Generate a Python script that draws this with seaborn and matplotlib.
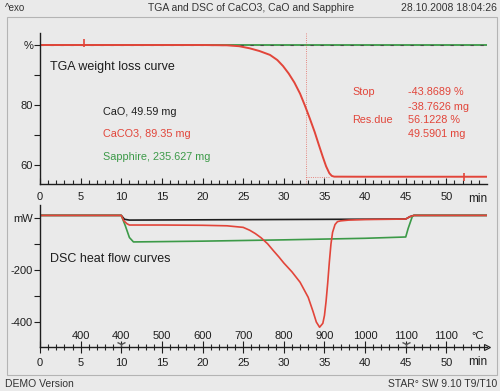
import matplotlib
matplotlib.use("Agg")
import matplotlib.pyplot as plt
from matplotlib.patches import Rectangle
import seaborn as sns
import pandas as pd

# TGA (weight %, vs time in min)
tga_t = [0, 10, 20, 23, 24.5, 25.8, 27, 28.3, 29.2, 29.9, 30.6, 31.3, 32, 32.6, 33.2,
         33.8, 34.3, 34.8, 35.2, 35.6, 35.9, 36.2, 40, 50, 55]
tga_caco3 = [100, 100, 100, 99.9, 99.6, 98.9, 98.0, 96.7, 95.0, 93.0, 90.5, 87.5, 83.8, 79.8, 75.5,
             71.0, 66.8, 62.7, 59.6, 57.3, 56.4, 56.15, 56.12, 56.12, 56.12]
tga_flat_t = [0, 55]
tga_sapphire = [100.1, 100.1]
tga_cao = [100.0, 100.0]

# DSC (heat flow mW, vs time in min)
dsc_cao_t = [0, 10, 10.4, 11, 45, 45.5, 46, 55]
dsc_cao = [10, 10, -5, -8, -4, 5, 10, 10]
dsc_caco3_t = [0, 10, 10.3, 10.7, 11, 15, 20, 23, 25, 25.8, 26.5, 27.2, 28, 28.7, 29.4, 30, 31,
               32, 33, 33.6, 34, 34.4, 34.8, 35.0, 35.2, 35.4, 35.6, 35.8, 36.0, 36.3, 36.6,
               37, 38, 40, 45, 45.5, 46, 55]
dsc_caco3 = [10, 10, -10, -22, -27, -27, -28, -30, -36, -47, -60, -76, -99, -125, -150, -173, -207,
             -247, -305, -360, -400, -420, -405, -375, -320, -250, -170, -100, -55, -25, -14,
             -11, -8, -6, -4, 5, 10, 10]
dsc_sapph_t = [0, 10, 10.5, 11, 11.5, 20, 30, 40, 45, 45.3, 45.8, 46, 55]
dsc_sapph = [10, 10, -30, -75, -92, -89, -84, -78, -73, -40, 5, 10, 10]

# temperature scale under the DSC curves
temp_t = [5, 10, 15, 20, 25, 30, 35, 40, 45, 50]
temp_labels = ["400", "400", "500", "600", "700", "800", "900", "1000", "1100", "1100"]
segment_t = [10, 45]

step_t = 32.7
residue = 56.12

RED = "#e2453a"
GREEN = "#3c9a48"
BLACK = "#1e1e1e"
BG = "#eaeaea"

sns.set_theme(style="white")
plt.rcParams["font.family"] = ["Liberation Sans", "DejaVu Sans"]

W, H = 500, 391
fig = plt.figure(figsize=(5, 3.91), dpi=100, facecolor=BG)


def fx(x):
    return x / W


def fy(y):
    return 1 - y / H


fig.patches.append(Rectangle((fx(7), fy(375)), 490 / W, 358 / H, transform=fig.transFigure,
                             facecolor="none", edgecolor="#b4b4b4", lw=0.8))

ax1 = fig.add_axes([fx(40), fy(184), 447 / W, 151 / H])
ax2 = fig.add_axes([fx(40), fy(347), 447 / W, 142 / H])

for ax in (ax1, ax2):
    ax.set_facecolor(BG)
    for s in ("top", "right"):
        ax.spines[s].set_visible(False)
    ax.spines["left"].set_color(BLACK)
    ax.spines["bottom"].set_color(BLACK)
    ax.spines["left"].set_linewidth(1.0)
    ax.spines["bottom"].set_linewidth(1.0)
    ax.set_xlim(0, 55)
    ax.set_xticks(range(0, 51, 5))
    ax.set_xticks(range(0, 55), minor=True)
    ax.tick_params(axis="x", which="major", labelsize=8, colors=BLACK)
    ax.tick_params(axis="y", which="both", direction="out", left=True, labelsize=8, colors=BLACK,
                   length=4, width=0.8, pad=1)

# ---- TGA ----
tga = pd.DataFrame({"t": tga_t, "w": tga_caco3})
flat = pd.DataFrame({"t": tga_flat_t, "s": tga_sapphire, "c": tga_cao})
sns.lineplot(data=flat, x="t", y="s", ax=ax1, color=GREEN, lw=1.3, estimator=None)
sns.lineplot(data=flat, x="t", y="c", ax=ax1, color="#4a4a4a", lw=0.8, ls=(0, (3, 6)), estimator=None)
sns.lineplot(data=tga, x="t", y="w", ax=ax1, color=RED, lw=1.4, estimator=None)
ax1.axvline(step_t, color=RED, lw=0.6, ls=":", alpha=0.8)
ax1.plot([step_t, 35.6], [residue, residue], color=RED, lw=0.6, ls=":", alpha=0.8)
ax1.plot([5.4, 52.2], [100.6, residue], ls="none", marker="|", ms=6, mew=1.2, color=RED)
ax1.set_ylim(53.7, 104)
ax1.set_yticks([60, 80, 100])
ax1.set_yticklabels(["60", "80", "%"])
ax1.set_yticks([70, 90], minor=True)
ax1.tick_params(axis="x", which="both", direction="in", bottom=True, width=0.8)
ax1.tick_params(axis="x", which="major", length=4, pad=6)
ax1.tick_params(axis="x", which="minor", length=3)
ax1.set_xlabel("")
ax1.set_ylabel("")
ax1.annotate("min", (53.8, 0), xycoords=ax1.get_xaxis_transform(), xytext=(0, -6.5),
             textcoords="offset points", ha="center", va="top", fontsize=8.5, color=BLACK)

# ---- DSC ----
for tt, yy, c in ((dsc_cao_t, dsc_cao, BLACK), (dsc_sapph_t, dsc_sapph, GREEN),
                  (dsc_caco3_t, dsc_caco3, RED)):
    d = pd.DataFrame({"t": tt, "q": yy})
    sns.lineplot(data=d, x="t", y="q", ax=ax2, color=c, lw=1.2, estimator=None)
ax2.set_ylim(-496, 50)
ax2.set_yticks([0, -200, -400])
ax2.set_yticklabels(["mW", "-200", "-400"])
ax2.set_yticks([-100, -300], minor=True)
ax2.tick_params(axis="x", which="both", direction="inout", bottom=True, width=0.8)
ax2.tick_params(axis="x", which="major", length=8, pad=4)
ax2.tick_params(axis="x", which="minor", length=5)
ax2.set_xlabel("")
ax2.set_ylabel("")
for t, lab in zip(temp_t, temp_labels):
    ax2.text(t, -452, lab, ha="center", va="center", fontsize=8, color=BLACK)
ax2.text(53.9, -452, "°C", ha="center", va="center", fontsize=8, color=BLACK)
ax2.plot(segment_t, [-486, -486], ls="none", marker="1", ms=7, mew=1.0, color="#555555")
ax2.plot([1.0], [0], transform=ax2.transAxes, marker=">", ms=5, color=BLACK, clip_on=False,
         mfc="none", mew=0.8)
ax2.annotate("min", (53.8, 0), xycoords=ax2.get_xaxis_transform(), xytext=(0, -6.5),
             textcoords="offset points", ha="center", va="top", fontsize=8.5, color=BLACK)

# ---- labels ----
fig.text(fx(5), fy(8), "^exo", fontsize=7, color="#333333", va="center")
fig.text(fx(251), fy(8), "TGA and DSC of CaCO3, CaO and Sapphire", fontsize=7.5, color="#333333",
         va="center", ha="center")
fig.text(fx(497), fy(8), "28.10.2008 18:04:26", fontsize=7.5, color="#333333", va="center", ha="right")
fig.text(fx(50), fy(67), "TGA weight loss curve", fontsize=9, color=BLACK, va="center")
fig.text(fx(103), fy(112), "CaO, 49.59 mg", fontsize=7.8, color=BLACK, va="center")
fig.text(fx(103), fy(134), "CaCO3, 89.35 mg", fontsize=7.8, color=RED, va="center")
fig.text(fx(103), fy(157), "Sapphire, 235.627 mg", fontsize=7.8, color=GREEN, va="center")
fig.text(fx(352), fy(92), "Stop", fontsize=7.8, color=RED, va="center")
fig.text(fx(408), fy(92), "-43.8689 %", fontsize=7.8, color=RED, va="center")
fig.text(fx(408), fy(107), "-38.7626 mg", fontsize=7.8, color=RED, va="center")
fig.text(fx(352), fy(120), "Res.due", fontsize=7.8, color=RED, va="center")
fig.text(fx(408), fy(120), "56.1228 %", fontsize=7.8, color=RED, va="center")
fig.text(fx(408), fy(134), "49.5901 mg", fontsize=7.8, color=RED, va="center")
fig.text(fx(50), fy(259), "DSC heat flow curves", fontsize=9, color=BLACK, va="center")
fig.text(fx(5), fy(384), "DEMO Version", fontsize=7.5, color="#333333", va="center")
fig.text(fx(497), fy(384), "STAR\u00b0 SW 9.10 T9/T10", fontsize=7.5, color="#333333", va="center",
         ha="right")

fig.savefig("out.png", dpi=100, facecolor=BG)
